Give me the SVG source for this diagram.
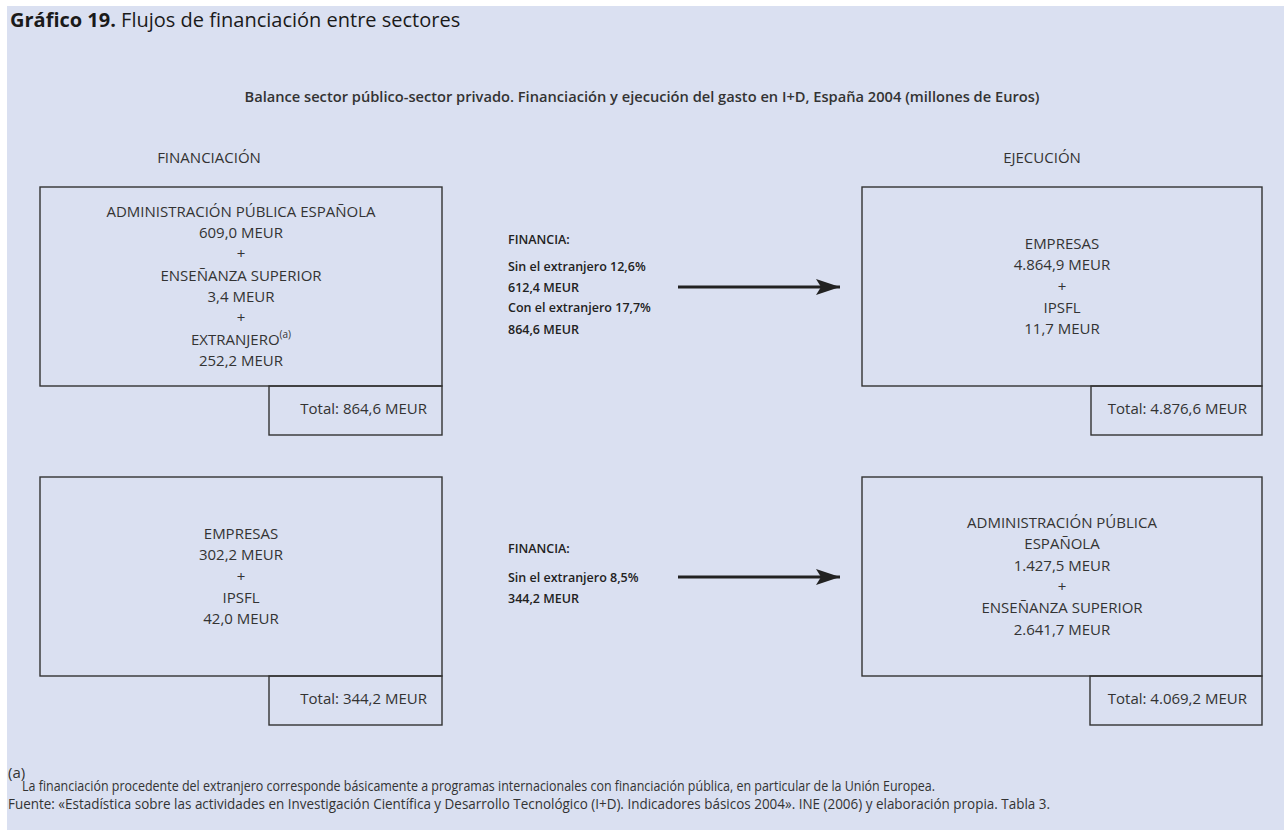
<svg xmlns="http://www.w3.org/2000/svg" width="1284" height="830" viewBox="0 0 1284 830">
<defs>
<style>
.t{font-family:"Open Sans","Noto Sans","Liberation Sans",sans-serif;fill:#333;font-size:15px}
.c{text-anchor:middle}
.r{text-anchor:end}
.m{font-weight:600;fill:#222;font-size:12.5px}
.box{fill:none;stroke:#333;stroke-width:1.4}
.conn{stroke:#222;stroke-width:3;fill:none}
</style>
<marker id="ah" markerWidth="24" markerHeight="16" refX="24" refY="8" orient="auto" markerUnits="userSpaceOnUse">
<path d="M0,0 L24,8 L0,16 L5,8 Z" fill="#222"/>
</marker>
</defs>
<rect x="0" y="0" width="1284" height="830" fill="#ffffff"/>
<rect x="7" y="6" width="1277" height="824" fill="#dae0f1"/>
<g id="title">
<text x="10" y="27" style="font-family:'Open Sans','Noto Sans',sans-serif;font-size:20px;fill:#1a1a1a"><tspan font-weight="700">Gráfico 19.</tspan> Flujos de financiación entre sectores</text>
</g>
<text class="t c" x="642" y="102" font-size="13" font-weight="600" fill="#222" textLength="795" lengthAdjust="spacingAndGlyphs">Balance sector público-sector privado. Financiación y ejecución del gasto en I+D, España 2004 (millones de Euros)</text>
<text class="t c" x="209" y="163" font-size="15">FINANCIACIÓN</text>
<text class="t c" x="1042" y="163" font-size="15">EJECUCIÓN</text>

<g id="node-fin-publico">
<rect class="box" x="40" y="187" width="402" height="199"/>
<text class="t c" x="241" y="217">ADMINISTRACIÓN PÚBLICA ESPAÑOLA</text>
<text class="t c" x="241" y="238">609,0 MEUR</text>
<text class="t c" x="241" y="259">+</text>
<text class="t c" x="241" y="281">ENSEÑANZA SUPERIOR</text>
<text class="t c" x="241" y="302">3,4 MEUR</text>
<text class="t c" x="241" y="323">+</text>
<text class="t c" x="241" y="345">EXTRANJERO<tspan font-size="10" dy="-7">(a)</tspan></text>
<text class="t c" x="241" y="366">252,2 MEUR</text>
<rect class="box" x="269" y="386" width="173" height="49"/>
<text class="t r" x="427" y="414">Total: 864,6 MEUR</text>
</g>

<g id="node-ejec-privado">
<rect class="box" x="862" y="187" width="400" height="199"/>
<text class="t c" x="1062" y="249">EMPRESAS</text>
<text class="t c" x="1062" y="270">4.864,9 MEUR</text>
<text class="t c" x="1062" y="292">+</text>
<text class="t c" x="1062" y="313">IPSFL</text>
<text class="t c" x="1062" y="334">11,7 MEUR</text>
<rect class="box" x="1091" y="386" width="171" height="49"/>
<text class="t r" x="1247" y="414">Total: 4.876,6 MEUR</text>
</g>

<g id="node-fin-privado">
<rect class="box" x="40" y="477" width="402" height="199"/>
<text class="t c" x="241" y="539">EMPRESAS</text>
<text class="t c" x="241" y="560">302,2 MEUR</text>
<text class="t c" x="241" y="582">+</text>
<text class="t c" x="241" y="603">IPSFL</text>
<text class="t c" x="241" y="624">42,0 MEUR</text>
<rect class="box" x="269" y="676" width="173" height="49"/>
<text class="t r" x="427" y="704">Total: 344,2 MEUR</text>
</g>

<g id="node-ejec-publico">
<rect class="box" x="862" y="477" width="400" height="199"/>
<text class="t c" x="1062" y="528">ADMINISTRACIÓN PÚBLICA</text>
<text class="t c" x="1062" y="549">ESPAÑOLA</text>
<text class="t c" x="1062" y="571">1.427,5 MEUR</text>
<text class="t c" x="1062" y="592">+</text>
<text class="t c" x="1062" y="613">ENSEÑANZA SUPERIOR</text>
<text class="t c" x="1062" y="635">2.641,7 MEUR</text>
<rect class="box" x="1090" y="676" width="172" height="49"/>
<text class="t r" x="1247" y="704">Total: 4.069,2 MEUR</text>
</g>

<g id="connectors">
<line class="conn" x1="678" y1="287" x2="840" y2="287" marker-end="url(#ah)"/>
<line class="conn" x1="678" y1="577" x2="840" y2="577" marker-end="url(#ah)"/>
<g id="label-top">
<text class="t m" x="508" y="244">FINANCIA:</text>
<text class="t m" x="508" y="271">Sin el extranjero 12,6%</text>
<text class="t m" x="508" y="292">612,4 MEUR</text>
<text class="t m" x="508" y="312">Con el extranjero 17,7%</text>
<text class="t m" x="508" y="334">864,6 MEUR</text>
</g>
<g id="label-bottom">
<text class="t m" x="508" y="553">FINANCIA:</text>
<text class="t m" x="508" y="582">Sin el extranjero 8,5%</text>
<text class="t m" x="508" y="603">344,2 MEUR</text>
</g>
</g>

<g id="footnotes">
<text class="t" x="8" y="778" font-size="9.5">(a)</text>
<text class="t" x="22" y="791" font-size="12.5" textLength="913" lengthAdjust="spacingAndGlyphs">La financiación procedente del extranjero corresponde básicamente a programas internacionales con financiación pública, en particular de la Unión Europea.</text>
<text class="t" x="8" y="809" font-size="12.5" textLength="1042" lengthAdjust="spacingAndGlyphs">Fuente: «Estadística sobre las actividades en Investigación Científica y Desarrollo Tecnológico (I+D). Indicadores básicos 2004». INE (2006) y elaboración propia. Tabla 3.</text>
</g>
</svg>
